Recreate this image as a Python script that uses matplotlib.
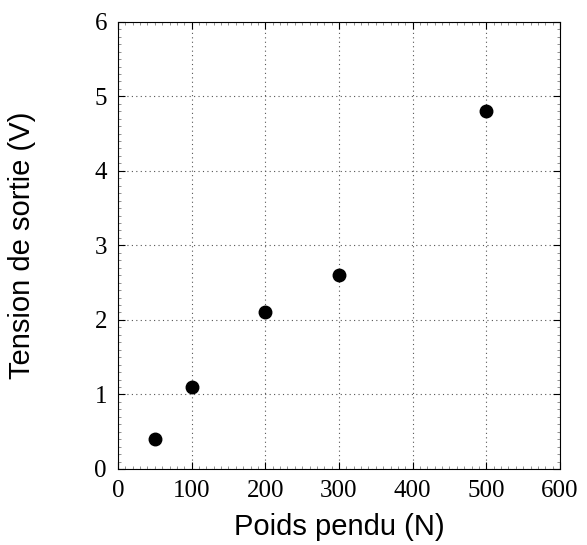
import matplotlib
matplotlib.use("Agg")
import matplotlib.pyplot as plt
from matplotlib.ticker import MultipleLocator

# weight hung (N) vs output voltage (V)
poids = [50, 100, 200, 300, 500]
tension = [0.4, 1.1, 2.1, 2.6, 4.8]

fig = plt.figure(figsize=(5.87, 5.45), dpi=100)
ax = fig.add_axes([0.201, 0.1395, 0.753, 0.8205])

ax.plot(poids, tension, "o", color="black", markersize=9)

ax.set_xlim(0, 600)
ax.set_ylim(0, 6)
ax.xaxis.set_major_locator(MultipleLocator(100))
ax.yaxis.set_major_locator(MultipleLocator(1))
ax.xaxis.set_minor_locator(MultipleLocator(10))
ax.yaxis.set_minor_locator(MultipleLocator(0.1))
ax.grid(True, which="major", linestyle=(0, (1, 3)), color="#555555", linewidth=0.8)

ax.tick_params(which="both", direction="in", top=True, right=True)
ax.tick_params(which="major", length=5, width=0.8, pad=8)
ax.tick_params(which="minor", length=2.5, width=0.5, color="#666666")
for lab in ax.get_xticklabels() + ax.get_yticklabels():
    lab.set_family("Liberation Serif")
    lab.set_fontsize(18)

ax.set_xlabel("Poids pendu (N)", fontsize=21, family="Liberation Sans", labelpad=8)
ax.set_ylabel("Tension de sortie (V)", fontsize=21, family="Liberation Sans", labelpad=42)

fig.savefig("out.png", dpi=100)
